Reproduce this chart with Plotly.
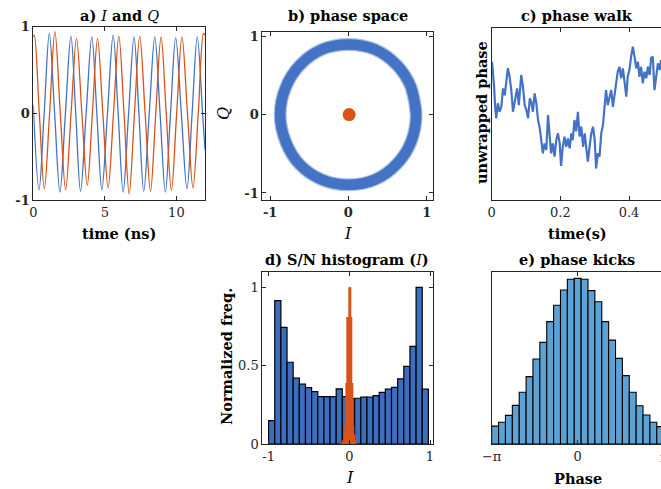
import numpy as np
import plotly.graph_objects as go

# ---------------- data ----------------
# a) I and Q : extrema / zero crossings of the traces (time in ns)
iq_I_t = [0.00, 0.40, 0.76, 1.12, 1.49, 1.86, 2.245, 2.63, 2.965, 3.30, 3.695, 4.09, 4.44, 4.79,
          5.185, 5.58, 5.93, 6.28, 6.66, 7.04, 7.38, 7.72, 8.105, 8.49, 8.86, 9.23, 9.59, 9.95,
          10.345, 10.74, 11.10, 11.46, 11.83, 12.0]
iq_I_v = [0.09, -0.88, 0.0, 0.92, 0.0, -0.91, 0.0, 0.89, 0.0, -0.90, 0.0, 0.88, 0.0, -0.88,
          0.0, 0.90, 0.0, -0.91, 0.0, 0.88, 0.0, -0.90, 0.0, 0.88, 0.0, -0.91, 0.0, 0.87,
          0.0, -0.87, 0.0, 0.88, 0.0, -0.42]
iq_Q_t = [0.00, 0.07, 0.42, 0.77, 1.14, 1.51, 1.885, 2.26, 2.64, 3.02, 3.395, 3.77, 4.13, 4.49,
          4.86, 5.23, 5.605, 5.98, 6.34, 6.70, 7.07, 7.44, 7.815, 8.19, 8.56, 8.93, 9.29, 9.65,
          10.02, 10.39, 10.775, 11.16, 11.53, 11.90, 12.0]
iq_Q_v = [0.88, 0.90, 0.0, -0.87, 0.0, 0.94, 0.0, -0.88, 0.0, 0.86, 0.0, -0.83, 0.0, 0.86,
          0.0, -0.86, 0.0, 0.89, 0.0, -0.93, 0.0, 0.89, 0.0, -0.90, 0.0, 0.88, 0.0, -0.89,
          0.0, 0.88, 0.0, -0.86, 0.0, 0.92, 0.90]

# b) phase space : centre line of the noisy ring, and the noise blob
ring_I = [0.866, 0.80, 0.62, 0.34, 0.00, -0.34, -0.62, -0.80, -0.872, -0.80, -0.62, -0.34,
          0.00, 0.34, 0.62, 0.80, 0.866, 0.80]
ring_Q = [0.00, 0.35, 0.63, 0.83, 0.895, 0.83, 0.63, 0.35, 0.00, -0.35, -0.64, -0.83,
          -0.895, -0.83, -0.63, -0.35, 0.00, 0.35]
blob_I = [0.01]
blob_Q = [0.0]

# c) phase walk (time in s, unwrapped phase in arbitrary units)
walk_t = [0.001, 0.004, 0.007, 0.010, 0.013, 0.018, 0.023, 0.028, 0.033, 0.038,
          0.042, 0.047, 0.052, 0.057, 0.062, 0.067, 0.074, 0.079, 0.086, 0.091,
          0.096, 0.101, 0.106, 0.111, 0.115, 0.120, 0.125, 0.130, 0.135, 0.140,
          0.144, 0.149, 0.154, 0.159, 0.164, 0.169, 0.173, 0.178, 0.183, 0.188,
          0.193, 0.198, 0.202, 0.207, 0.212, 0.217, 0.222, 0.227, 0.232, 0.236,
          0.241, 0.246, 0.251, 0.256, 0.261, 0.266, 0.271, 0.275, 0.280, 0.285,
          0.290, 0.295, 0.300, 0.304, 0.309, 0.314, 0.319, 0.324, 0.329, 0.333,
          0.338, 0.343, 0.348, 0.353, 0.358, 0.362, 0.367, 0.372, 0.377, 0.382,
          0.387, 0.392, 0.396, 0.401, 0.406, 0.411, 0.416, 0.421, 0.426, 0.430,
          0.435, 0.440, 0.445, 0.450, 0.455, 0.460, 0.464, 0.469, 0.474, 0.479,
          0.484, 0.489, 0.493]
walk_v = [0.805, 0.747, 0.66, 0.543, 0.476, 0.563, 0.514, 0.543, 0.65, 0.61,
          0.68, 0.767, 0.72, 0.64, 0.514, 0.563, 0.65, 0.553, 0.728, 0.66,
          0.553, 0.524, 0.476, 0.592, 0.572, 0.514, 0.621, 0.563, 0.466, 0.417,
          0.349, 0.272, 0.33, 0.291, 0.495, 0.369, 0.272, 0.33, 0.252, 0.349,
          0.388, 0.33, 0.198, 0.31, 0.369, 0.31, 0.359, 0.301, 0.388, 0.349,
          0.466, 0.40, 0.514, 0.369, 0.427, 0.31, 0.388, 0.31, 0.223, 0.31,
          0.388, 0.427, 0.349, 0.184, 0.272, 0.252, 0.388, 0.437, 0.582, 0.64,
          0.553, 0.602, 0.64, 0.543, 0.621, 0.68, 0.747, 0.776, 0.709, 0.767,
          0.68, 0.602, 0.718, 0.757, 0.835, 0.893, 0.835, 0.767, 0.805, 0.718,
          0.776, 0.68, 0.747, 0.709, 0.776, 0.728, 0.825, 0.835, 0.64, 0.738,
          0.796, 0.757, 0.815]

# d) S/N histogram of I
sn_signal_edges = (-1.0, 0.98)
sn_signal = [0.149, 0.915, 0.744, 0.522, 0.42, 0.382, 0.36, 0.335, 0.303, 0.303,
             0.303, 0.352, 0.303, 0.29, 0.292, 0.299, 0.30, 0.309, 0.33, 0.35,
             0.362, 0.416, 0.495, 0.623, 1.0, 0.35]
sn_noise_x = [-0.0875, -0.075, -0.0625, -0.05, -0.0375, -0.025, -0.0125, 0.0,
              0.0125, 0.025, 0.0375, 0.05, 0.0625, 0.075]
sn_noise = [0.015, 0.026, 0.06, 0.12, 0.39, 0.81, 0.81, 1.0, 1.0, 0.81, 0.39, 0.12, 0.06, 0.026]
sn_noise_width = 0.0125

# e) phase kicks histogram (25 bins over -pi..pi), normalised heights
kick_heights = [0.104, 0.126, 0.166, 0.224, 0.300, 0.391, 0.493, 0.590, 0.710, 0.805,
                0.894, 0.956, 0.961, 0.956, 0.890, 0.826, 0.710, 0.603, 0.497, 0.397,
                0.300, 0.222, 0.168, 0.126, 0.101]

# ---------------- style / layout ----------------
W, H = 661, 489
SERIF = "DejaVu Serif"
BLUE = "#4472C4"
ORANGE = "#D95319"
DBLUE = "#3D6DBF"
LBLUE = "#5DA2D5"
AXC = "#262626"


def fx(px):
    return px / W


def fy(py):
    return 1 - py / H


def axis(dom, rng, **kw):
    d = dict(domain=dom, range=rng, showline=True, linecolor=AXC, linewidth=1,
             ticks="inside", ticklen=4, tickwidth=1, tickcolor=AXC, showgrid=False,
             zeroline=False, mirror="ticks", automargin=False,
             tickfont=dict(family=SERIF, size=13, color=AXC))
    d.update(kw)
    return d


BOLDTICK = dict(family=SERIF, size=13, color=AXC, weight="bold")

fig = go.Figure()

# a)
fig.add_trace(go.Scatter(x=iq_I_t, y=iq_I_v, mode="lines", xaxis="x", yaxis="y",
                         line=dict(color=BLUE, width=1.3, shape="spline", smoothing=1.0)))
fig.add_trace(go.Scatter(x=iq_Q_t, y=iq_Q_v, mode="lines", xaxis="x", yaxis="y",
                         line=dict(color=ORANGE, width=1.3, shape="spline", smoothing=1.0)))

# b)
fig.add_trace(go.Scatter(x=ring_I, y=ring_Q, mode="lines", xaxis="x2", yaxis="y2",
                         opacity=0.45,
                         line=dict(color=BLUE, width=13, shape="spline", smoothing=1.0)))
fig.add_trace(go.Scatter(x=ring_I, y=ring_Q, mode="lines", xaxis="x2", yaxis="y2",
                         line=dict(color=BLUE, width=10.5, shape="spline", smoothing=1.0)))
fig.add_trace(go.Scatter(x=blob_I, y=blob_Q, mode="markers", xaxis="x2", yaxis="y2",
                         marker=dict(color=ORANGE, size=13, line=dict(width=0))))

# c)
fig.add_trace(go.Scatter(x=walk_t, y=walk_v, mode="lines", xaxis="x3", yaxis="y3",
                         line=dict(color=BLUE, width=2.2)))

# d)
sn_edges = np.linspace(sn_signal_edges[0], sn_signal_edges[1], len(sn_signal) + 1)
sn_centers = (sn_edges[:-1] + sn_edges[1:]) / 2
sn_w = sn_edges[1] - sn_edges[0]
fig.add_trace(go.Bar(x=sn_centers, y=sn_signal, width=[sn_w] * len(sn_signal),
                     xaxis="x4", yaxis="y4",
                     marker=dict(color=DBLUE, line=dict(color="black", width=1.2))))
fig.add_trace(go.Bar(x=sn_noise_x, y=sn_noise, width=[sn_noise_width] * len(sn_noise),
                     xaxis="x4", yaxis="y4",
                     marker=dict(color=ORANGE, line=dict(width=0))))

# e)
k_edges = np.linspace(-np.pi, np.pi, len(kick_heights) + 1)
k_centers = (k_edges[:-1] + k_edges[1:]) / 2
k_w = k_edges[1] - k_edges[0]
fig.add_trace(go.Bar(x=k_centers, y=kick_heights, width=[k_w] * len(kick_heights),
                     xaxis="x5", yaxis="y5",
                     marker=dict(color=LBLUE, line=dict(color="black", width=1.1))))

# axes
A = ([fx(33.3), fx(205)], [fy(200), fy(26.5)])
B = ([fx(262.3), fx(433.3)], [fy(200), fy(32.3)])
C = ([fx(491.7), fx(661)], [fy(200), fy(28.3)])
D = ([fx(262.3), fx(432.5)], [fy(444), fy(271.7)])
E = ([fx(491.7), fx(661)], [fy(444), fy(271.7)])

c_right = 0.493
e_right = np.pi * 0.969

layout = dict(
    width=W, height=H, autosize=False, showlegend=False, hovermode=False,
    margin=dict(l=0, r=0, t=0, b=0, pad=0, autoexpand=False),
    paper_bgcolor="white", plot_bgcolor="white", barmode="overlay",
    xaxis=axis(A[0], [0, 12], anchor="y", tickvals=[0, 5, 10], ticktext=["0", "5", "10"]),
    yaxis=axis(A[1], [-1, 1], anchor="x", tickvals=[-1, 0, 1], ticktext=["-1", "0", "1"],
               tickfont=BOLDTICK),
    xaxis2=axis(B[0], [-1.1, 1.085], anchor="y2", tickvals=[-1, 0, 1],
                ticktext=["-1", "0", "1"], tickfont=BOLDTICK),
    yaxis2=axis(B[1], [-1.09, 1.05], anchor="x2", tickvals=[-1, 0, 1],
                ticktext=["-1", "0", "1"], tickfont=BOLDTICK),
    xaxis3=axis(C[0], [0, c_right], anchor="y3", tickvals=[0, 0.2, 0.4],
                ticktext=["0", "0.2", "0.4"]),
    yaxis3=axis(C[1], [0, 1], anchor="x3", mirror=False, ticks="", showticklabels=False),
    xaxis4=axis(D[0], [-1.078, 1.031], anchor="y4", tickvals=[-1, 0, 1],
                ticktext=["-1", "0", "1"]),
    yaxis4=axis(D[1], [0, 1.1], anchor="x4", tickvals=[0, 0.5, 1], ticktext=["0", "0.5", "1"]),
    xaxis5=axis(E[0], [-np.pi, e_right], anchor="y5", tickvals=[-np.pi, 0],
                ticktext=["\u2212\u03c0", "0"]),
    yaxis5=axis(E[1], [0, 1], anchor="x5", mirror=False, ticks="", showticklabels=False),
)
fig.update_layout(**layout)

TFONT = dict(family=SERIF, size=14.5, color="black")
IFONT = dict(family=SERIF, size=16, color="black")


def note(text, cx, cy, font=TFONT, angle=0):
    fig.add_annotation(text=text, x=fx(cx), y=fy(cy), xref="paper", yref="paper",
                       xanchor="center", yanchor="middle", showarrow=False,
                       textangle=angle, font=font)


# titles
note("<b>a) </b><i>I</i><b> and </b><i>Q</i>", 119, 15)
note("<b>b) phase space</b>", 348, 15)
note("<b>c) phase walk</b>", 577, 15)
note("<b>d) S/N histogram (</b><i>I</i><b>)</b>", 347, 259)
note("<b>e) phase kicks</b>", 577, 259)
# axis labels
note("<b>time (ns)</b>", 119, 233)
note("<i>I</i>", 348, 233, IFONT)
note("<i>Q</i>", 223, 114, IFONT, -90)
note("<b>time(s)</b>", 577, 233)
note("<b>unwrapped phase</b>", 481, 113, TFONT, -90)
note("<b>Normalized freq.</b>", 226, 357, TFONT, -90)
note("<i>I</i>", 350, 477, IFONT)
note("<b>Phase</b>", 578, 478)
# clipped pi tick label at the right edge of e)
note("\u03c0", 664, 457, dict(family=SERIF, size=13, color=AXC))

fig.write_html(
    "out.html",
    config={"displayModeBar": False},
    post_script="document.body.style.margin='0px';document.body.style.padding='0px';"
                "document.body.style.overflow='hidden';",
)
